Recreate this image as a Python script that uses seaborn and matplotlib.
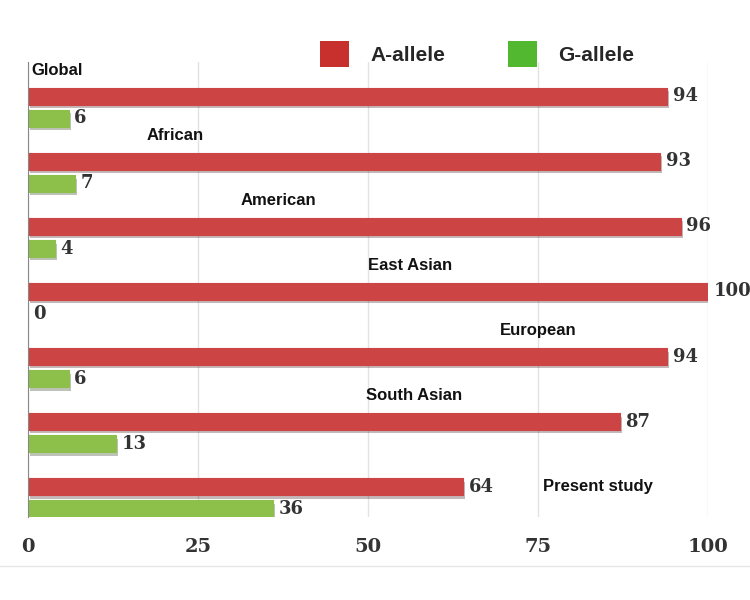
import numpy as np
import pandas as pd
import seaborn as sns
import matplotlib.pyplot as plt
import matplotlib.patheffects as pe
from matplotlib.patches import Patch
from matplotlib.lines import Line2D

sns.set_style('white')

populations = ['Global', 'African', 'American', 'East Asian', 'European', 'South Asian', 'Present study']
a_allele = [94, 93, 96, 100, 94, 87, 64]
g_allele = [6, 7, 4, 0, 6, 13, 36]
x_ticks = [0, 25, 50, 75, 100]

# where each population name sits inside the plot (x in data units)
label_x = [0.6, 21.6, 36.8, 56.2, 75.0, 56.8, 75.7]
label_ha = ['left', 'center', 'center', 'center', 'center', 'center', 'left']

df = pd.DataFrame({
    'population': populations * 2,
    'freq': a_allele + g_allele,
    'allele': ['A-allele'] * len(populations) + ['G-allele'] * len(populations),
})

bar_red = '#cc4444'
bar_green = '#8cc04b'

fig = plt.figure(figsize=(7.5, 6), dpi=100)
ax = fig.add_axes([0.037, 0.138, 0.907, 0.759])

sns.barplot(data=df, y='population', x='freq', hue='allele', orient='h',
            palette=[bar_red, bar_green], saturation=1, width=0.68, gap=0.24,
            ax=ax, legend=False, errorbar=None)

for cont in ax.containers:
    for bar in cont:
        bar.set_edgecolor(bar.get_facecolor())
        bar.set_linewidth(0.8)
        bar.set_joinstyle('round')
        bar.set_path_effects([pe.SimplePatchShadow(offset=(1.5, -2.5), alpha=0.3), pe.Normal()])
    ax.bar_label(cont, fmt='%d', padding=4, fontsize=13, fontweight='bold',
                 family='DejaVu Serif', color='#333333')

for i, name in enumerate(populations):
    y = i - 0.17 if name == 'Present study' else i - 0.57
    ax.text(label_x[i], y, name, ha=label_ha[i], va='center', fontsize=12,
            fontweight='bold', family='Liberation Sans', color='#111111')

ax.set_xlim(0, 100)
ax.set_ylim(6.3, -0.7)
ax.set_xticks(x_ticks)
ax.set_xticklabels([str(t) for t in x_ticks], fontsize=14, fontweight='bold',
                   family='DejaVu Serif', color='#333333')
ax.set_yticks(np.arange(-0.7, 6.31, 1.0))
ax.set_yticklabels([])
ax.set_xlabel('')
ax.set_ylabel('')
ax.grid(axis='x', color='#e3e3e3', linewidth=1)
ax.set_axisbelow(True)
ax.tick_params(axis='x', length=3, color='#999999', pad=12)
ax.tick_params(axis='y', length=4, color='#888888', direction='out')
for side in ['top', 'right', 'bottom']:
    ax.spines[side].set_visible(False)
ax.spines['left'].set_color('#888888')

handles = [Patch(facecolor='#c8302e', edgecolor='none', label='A-allele'),
           Patch(facecolor='#52b82f', edgecolor='none', label='G-allele')]
fig.legend(handles=handles, loc='center', bbox_to_anchor=(0.636, 0.91), ncol=2,
           frameon=False, handlelength=1.4, handleheight=1.6, columnspacing=3.0,
           handletextpad=1.0, prop={'family': 'Liberation Sans', 'weight': 'bold', 'size': 15})

fig.add_artist(Line2D([0, 1], [0.057, 0.057], color='#e6e6e6', linewidth=1))

fig.savefig('out.png', dpi=100)
